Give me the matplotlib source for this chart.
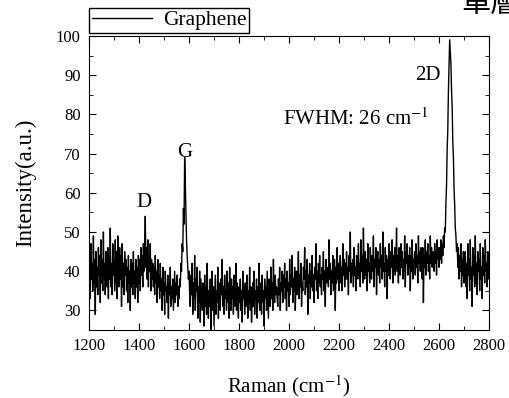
"""
Raman spectrum of graphene: D, G and 2D bands.
"""
import matplotlib.pyplot as plt
import numpy as np

plt.rcParams['font.family'] = ['Liberation Serif', 'Noto Sans CJK TC']
plt.rcParams['mathtext.fontset'] = 'stix'

# Raman shift grid (cm^-1), 2.5 cm^-1 steps from 1200 to 2800
raman_shift = np.arange(1200, 2800.1, 2.5)

# Intensity, one value per grid point
intensity_1200_1397 = [36, 44, 33, 47, 38, 42, 35, 49, 37, 43,
                       29, 45, 36, 41, 34, 46, 39, 44, 32, 48,
                       37, 43, 35, 50, 38, 42, 34, 45, 40, 36,
                       46, 33, 44, 38, 51, 36, 42, 34, 47, 39,
                       43, 35, 48, 37, 45, 33, 49, 40, 36, 46,
                       38, 44, 31, 47, 36, 42, 34, 45, 39, 43,
                       35, 41, 32, 44, 37, 40, 30, 43, 36, 42,
                       34, 45, 37, 40, 33, 43, 36, 41, 32, 44]
intensity_d_band = [37, 43, 35, 46, 39, 44, 36, 47, 40, 45,
                    54, 41, 46, 38, 48, 36, 44, 40, 47, 35,
                    43, 38, 42, 36]
intensity_1460_1557 = [41, 34, 44, 37, 40, 32, 43, 36, 39, 33,
                       42, 35, 38, 30, 41, 34, 37, 29, 40, 35,
                       36, 32, 39, 28, 37, 34, 41, 31, 36, 33,
                       38, 30, 35, 40, 32, 37, 34, 39, 31, 36]
intensity_g_band = [33, 38, 36, 42, 40, 47, 45, 56, 52, 69,
                    63, 55, 48, 44, 41, 38, 40, 34]
intensity_1605_1952 = [31, 39, 34, 42, 29, 37, 33, 44, 30, 38,
                       35, 41, 28, 36, 32, 40, 27, 38, 34, 30,
                       37, 33, 26, 39, 31, 36, 29, 42, 33, 28,
                       35, 31, 38, 25, 34, 40, 30, 36, 26, 33,
                       39, 29, 35, 32, 41, 28, 37, 33, 30, 38,
                       34, 43, 31, 36, 29, 39, 33, 35, 30, 40,
                       32, 37, 28, 41, 34, 30, 38, 33, 36, 29,
                       39, 31, 35, 42, 30, 37, 33, 28, 36, 32,
                       38, 30, 35, 27, 40, 33, 36, 29, 37, 31,
                       34, 39, 28, 35, 32, 41, 30, 36, 27, 33,
                       37, 31, 40, 29, 35, 33, 38, 28, 36, 32,
                       42, 30, 34, 37, 29, 39, 32, 35, 26, 38,
                       33, 36, 30, 40, 34, 28, 38, 35, 31, 41,
                       33, 37, 30, 43, 35, 32, 39, 34, 36, 33]
intensity_1955_2597 = [31, 38, 34, 41, 30, 37, 35, 40, 32, 39,
                       36, 42, 33, 38, 30, 40, 35, 37, 31, 43,
                       34, 39, 36, 44, 32, 38, 35, 41, 30, 37,
                       40, 34, 38, 45, 33, 39, 36, 42, 31, 37,
                       35, 41, 38, 46, 34, 40, 36, 43, 29, 39,
                       37, 42, 33, 40, 36, 44, 35, 39, 32, 41,
                       38, 47, 35, 40, 33, 42, 37, 44, 36, 39,
                       34, 41, 38, 45, 35, 40, 31, 43, 37, 39,
                       41, 36, 48, 38, 42, 34, 40, 37, 44, 35,
                       39, 43, 30, 41, 37, 46, 38, 42, 35, 40,
                       44, 37, 41, 35, 47, 39, 43, 36, 42, 38,
                       45, 38, 41, 34, 44, 40, 50, 37, 42, 39,
                       43, 36, 46, 39, 41, 35, 44, 40, 38, 47,
                       39, 42, 36, 48, 40, 44, 37, 51, 41, 38,
                       45, 39, 43, 35, 47, 40, 42, 37, 46, 41,
                       38, 44, 40, 49, 36, 43, 41, 46, 34, 42,
                       45, 39, 43, 37, 47, 41, 44, 38, 50, 40,
                       42, 36, 46, 40, 44, 33, 43, 39, 47, 41,
                       38, 45, 41, 48, 37, 44, 40, 46, 39, 43,
                       51, 40, 44, 37, 46, 42, 39, 47, 41, 45,
                       38, 43, 40, 49, 36, 45, 42, 47, 39, 44,
                       41, 46, 35, 44, 40, 48, 38, 43, 42, 45,
                       39, 47, 41, 44, 37, 49, 42, 45, 40, 46,
                       43, 38, 46, 32, 44, 41, 48, 39, 45, 42,
                       47, 40, 44, 38, 49, 42, 46, 41, 45, 43,
                       40, 47, 42, 45, 39, 48, 43, 46]
intensity_2d_band = [41, 46, 43, 48, 42, 47, 44, 49, 46, 51,
                     50, 57, 62, 71, 76, 86, 92, 99, 96, 93,
                     86, 82, 73, 69, 61, 57, 51, 49, 45, 47,
                     41, 46, 38, 44, 40, 47, 36, 43, 39, 45,
                     37, 42]
intensity_2705_2800 = [45, 36, 42, 33, 47, 39, 43, 35, 48, 38,
                       41, 31, 46, 39, 44, 36, 49, 37, 42, 34,
                       45, 40, 43, 35, 47, 38, 41, 33, 46, 39,
                       44, 37, 48, 40, 42, 36, 45, 38, 41]

intensity = np.array(intensity_1200_1397 + intensity_d_band + intensity_1460_1557
                     + intensity_g_band + intensity_1605_1952 + intensity_1955_2597
                     + intensity_2d_band + intensity_2705_2800, dtype=float)

fig = plt.figure(figsize=(5.09, 3.98), dpi=100)
ax = fig.add_axes([0.1749, 0.1709, 0.7859, 0.7387])

ax.plot(raman_shift, intensity, color='black', linewidth=1.0, label='Graphene')

ax.set_xlim(1200, 2800)
ax.set_ylim(25, 100)
ax.set_xticks(np.arange(1200, 2801, 200))
ax.set_xticks(np.arange(1300, 2800, 200), minor=True)
ax.set_yticks(np.arange(30, 101, 10))
ax.set_yticks(np.arange(25, 100, 10), minor=True)
ax.tick_params(which='both', direction='in', top=True, right=True, labelsize=12)
ax.tick_params(which='major', length=5, pad=6)
ax.tick_params(which='minor', length=3)

ax.set_xlabel(r'Raman (cm$^{-1}$)', fontsize=15, labelpad=14)
ax.set_ylabel('Intensity(a.u.)', fontsize=16.5, labelpad=14)

# Band labels
ax.text(1420, 57.5, 'D', fontsize=15, ha='center', va='center')
ax.text(1583, 70.4, 'G', fontsize=15, ha='center', va='center')
ax.text(2556, 90.0, '2D', fontsize=15, ha='center', va='center')
ax.text(1976, 77.3, r'FWHM: 26 cm$^{-1}$', fontsize=15, ha='left', va='baseline')

ax.legend(loc='lower left', bbox_to_anchor=(0, 1.01), borderaxespad=0,
          fancybox=False, edgecolor='black', framealpha=1, fontsize=15.5,
          handlelength=2.8, borderpad=0.12, handletextpad=0.5)

# Title text cut off at the top edge, as in the source image
fig.text(461 / 509, 1 - 19 / 398, '單層', fontsize=21, ha='left', va='bottom',
         family=['Noto Sans CJK TC'], fontweight='light')

fig.savefig('out.png', dpi=100)
